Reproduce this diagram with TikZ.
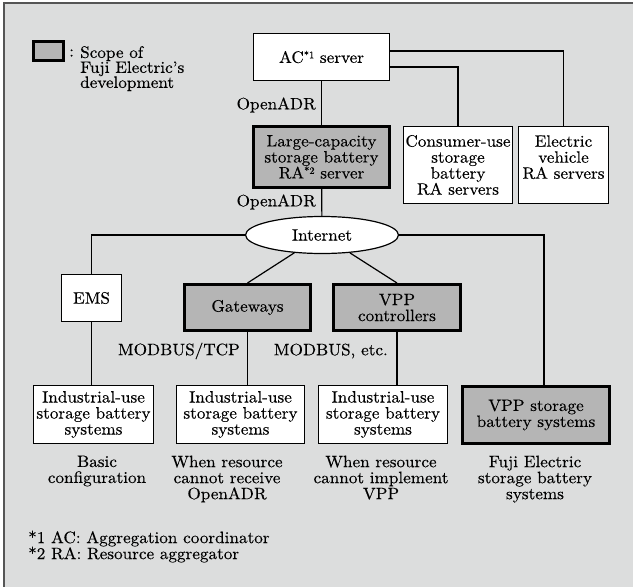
\documentclass[tikz,border=0pt]{standalone}
\usepackage{fontspec}
\setmainfont{lmroman10-regular.otf}[FakeBold=0.3, FakeStretch=1.04]
\usetikzlibrary{shapes.geometric}
\definecolor{panel}{RGB}{220,221,221}
\definecolor{scopegray}{RGB}{181,181,181}
\definecolor{framegray}{RGB}{85,85,85}
\newcommand{\diagfont}[1]{\fontsize{16.5}{#1}\selectfont\lineskiplimit=-20pt\lineskip=0pt}
\newcommand{\notefont}{\fontsize{16.5}{16}\selectfont\lineskiplimit=-20pt\lineskip=0pt}
% raised footnote mark, top level with the capitals
\newcommand{\fnmark}[1]{\raisebox{4.5pt}{\fontsize{10}{10}\selectfont *#1}}
\begin{document}
\begin{tikzpicture}[x=1pt,y=-1pt,
  every node/.style={font=\diagfont{16}, inner sep=0pt, align=center},
  plainbox/.style={rectangle, draw=black, line width=1.2pt, fill=white},
  scopebox/.style={rectangle, draw=black, line width=3pt, fill=scopegray},
  cloud/.style={ellipse, draw=black, line width=1.2pt, fill=white},
  link/.style={draw=black, line width=1.2pt},
  caption/.style={anchor=north, font=\diagfont{16}},
]
% page and panel
\fill[white] (0,0) rectangle (633,587);
\useasboundingbox (0,0) rectangle (633,587);
\fill[panel] (4,3) rectangle (633,587);
\draw[framegray, line width=1.2pt] (4,587) -- (4,3) -- (633,3);

% key
\node[scopebox, minimum width=30pt, minimum height=19pt] (key) at (48.5,51) {};
\node[anchor=west] (colon) at (69,53) {:};
\node[anchor=north west, align=left, font=\diagfont{15}] (keytext) at (80,46)
  {Scope of\\Fuji Electric's\\development};

% servers
\node[plainbox, minimum width=136pt, minimum height=47pt] (ac) at (321.5,57) {AC\fnmark{1} server};
\node[scopebox, minimum width=136pt, minimum height=61pt] (lc) at (321.5,157)
  {Large-capacity\\storage battery\\RA\fnmark{2} server};
\node[plainbox, minimum width=109pt, minimum height=77pt] (cons) at (458,165)
  {Consumer-use\\storage\\battery\\RA servers};
\node[plainbox, minimum width=90pt, minimum height=77pt] (ev) at (563.5,165)
  {Electric\\vehicle\\RA servers\\\mbox{}};

% network
\node[cloud, minimum width=153pt, minimum height=37pt] (net) at (322,235) {Internet};

% middle tier
\node[plainbox, minimum width=60pt, minimum height=47pt] (ems) at (91.5,298) {EMS};
\node[scopebox, minimum width=126pt, minimum height=46pt] (gw) at (247.5,307.5) {Gateways};
\node[scopebox, minimum width=127pt, minimum height=46pt] (vppc) at (397,307.5) {VPP\\controllers};

% battery systems
\node[plainbox, minimum width=120pt, minimum height=58pt] (ind1) at (93.5,414.5)
  {Industrial-use\\storage battery\\systems};
\node[plainbox, minimum width=128pt, minimum height=58pt] (ind2) at (240.5,414.5)
  {Industrial-use\\storage battery\\systems};
\node[plainbox, minimum width=129pt, minimum height=58pt] (ind3) at (383,414.5)
  {Industrial-use\\storage battery\\systems};
\node[scopebox, minimum width=147pt, minimum height=57pt] (vpps) at (536,415)
  {VPP storage\\battery systems};

% protocol labels
\node[anchor=east] (oa1) at (316,105) {OpenADR};
\node[anchor=east] (oa2) at (316,202) {OpenADR};
\node[anchor=east] (mtcp) at (240,351) {MODBUS/TCP};
\node[anchor=east] (metc) at (388,351) {MODBUS, etc.};

% captions
\node[caption] (cap1) at (97,455.5) {Basic\\configuration};
\node[caption] (cap2) at (227,455.5) {When resource\\cannot receive\\OpenADR};
\node[caption] (cap3) at (381,455.5) {When resource\\cannot implement\\VPP};
\node[caption] (cap4) at (535,455.5) {Fuji Electric\\storage battery\\systems};

% footnotes
\node[anchor=north west, align=left, font=\notefont] (notes) at (28,530.5)
  {*1 AC: Aggregation coordinator\\*2 RA: Resource aggregator};

% connectors
\draw[link] (ac) -- (lc);
\draw[link] ([yshift=6pt]ac.east) -| (ev.north);
\draw[link] ([yshift=-10pt]ac.east) -| (cons.north);
\draw[link] (lc) -- (net);
\draw[link] (net.west) -| (ems.north);
\draw[link] (net.east) -| ([xshift=8pt]vpps.north);
\draw[link] (net) -- (gw.north);
\draw[link] (net) -- (vppc.north);
\draw[link] (ems) -- (ems |- ind1.north);
\draw[link] (gw) -- (gw |- ind2.north);
\draw[link] (vppc) -- (vppc |- ind3.north);
\end{tikzpicture}
\end{document}
